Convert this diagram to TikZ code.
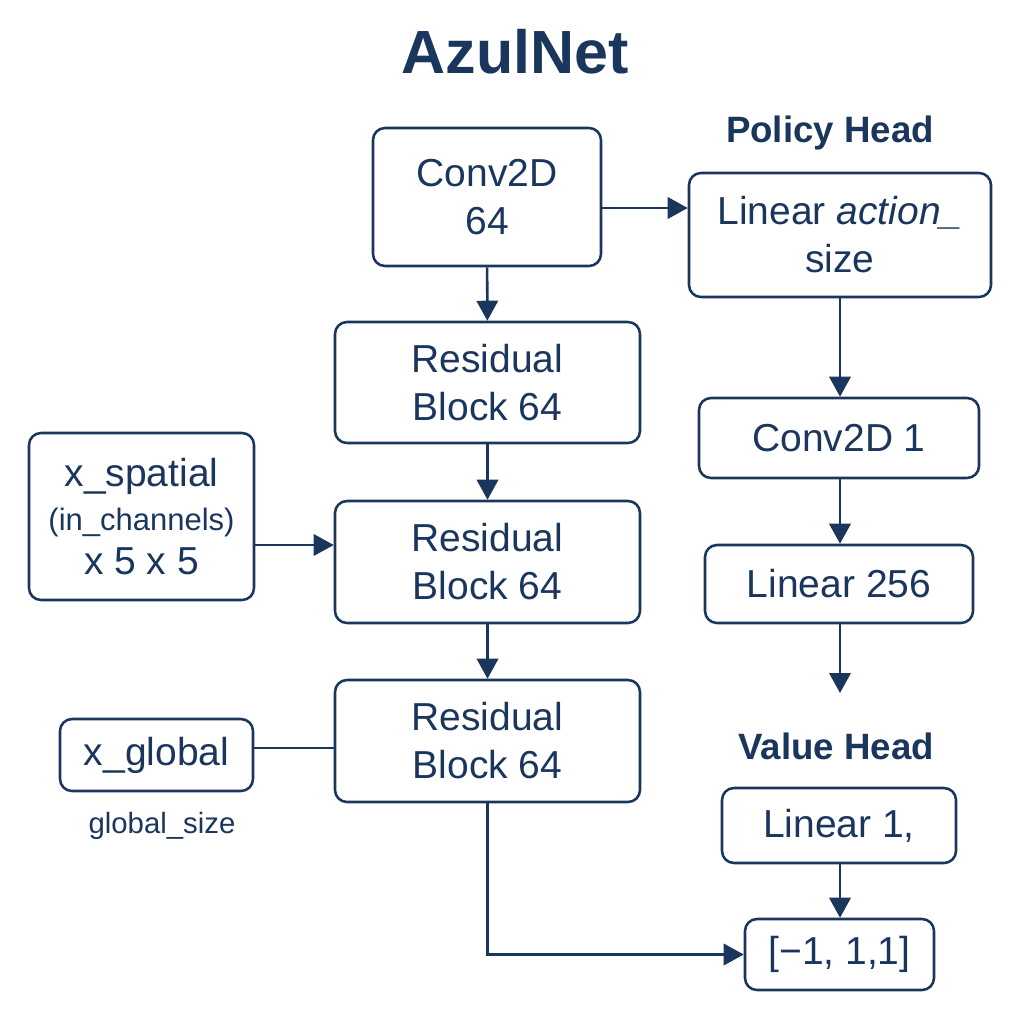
\documentclass[tikz,border=0pt]{standalone}
\usepackage{fontspec}
\setmainfont{Liberation Sans}
\usetikzlibrary{arrows.meta}
\definecolor{navy}{HTML}{1B365D}
\begin{document}
\begin{tikzpicture}[x=0.75pt,y=-0.75pt,
  box/.style={draw=navy, line width=1.9pt, rounded corners=9pt, inner sep=0pt, align=center, text=navy,
    font=\fontsize{29.25}{36}\selectfont},
  sz/.style 2 args={minimum width=#1*0.75pt, minimum height=#2*0.75pt},
  arr/.style={draw=navy, line width=1.9pt, -{Triangle[length=15pt,width=16pt]}},
  ln/.style={draw=navy, line width=1.9pt},
  ttl/.style={text=navy, font=\bfseries\fontsize{27.5}{32}\selectfont}]
\useasboundingbox (0,0) rectangle (1024,1024);
\node[text=navy, font=\bfseries\fontsize{45.75}{50}\selectfont] (title) at (515,52) {AzulNet};
\node[ttl] (ph) at (830,133) {Policy Head};
\node[ttl] (vh) at (836,746) {Value Head};

\node[box, sz={228}{138}] (conv) at (487,197) {Conv2D\\64};
\node[box, sz={305}{121}] (res1) at (487.5,382.5) {Residual\\Block 64};
\node[box, sz={305}{122}] (res2) at (487.5,562) {Residual\\Block 64};
\node[box, sz={305}{122}] (res3) at (487.5,741) {Residual\\Block 64};
\node[box, sz={225}{167}, font=\fontsize{29.25}{34}\selectfont] (xs) at (141.5,516.5) {x\_spatial\\[-1pt]{\fontsize{23.25}{34}\selectfont (in\_channels)}\\[-1pt]x 5 x 5};
\node[box, sz={193}{72}] (xg) at (156.5,755) {x\_global};
\node[text=navy, font=\fontsize{22}{26}\selectfont] (gs) at (162,826) {global\_size};

\node[box, sz={302}{124}] (lin) at (840,235) {Linear \textit{action\_}\\size};
\node[box, sz={280}{80}] (conv1) at (839,438) {Conv2D 1};
\node[box, sz={268}{78}] (l256) at (839,584) {Linear 256};
\node[box, sz={234}{75}] (l1) at (839,825.5) {Linear 1,};
\node[box, sz={189}{71}] (out) at (839.5,954.5) {[\char"2212 1, 1,1]};

\coordinate (y208) at (0,208);
\coordinate (y545) at (0,545);
\coordinate (y748) at (0,748);
\coordinate (vend) at (840,693);

\draw[arr] (conv) -- (res1);
\draw[arr] (res1) -- (res2);
\draw[arr] (res2) -- (res3);
\draw[arr] (conv.east |- y208) -- (lin.west |- y208);
\draw[arr] (lin.south) -- (conv1.north -| lin.south);
\draw[arr] (conv1.south -| lin.south) -- (l256.north -| lin.south);
\draw[arr] (l256.south -| vend) -- (vend);
\draw[arr] (xs.east |- y545) -- (res2.west |- y545);
\draw[ln] (xg.east |- y748) -- (res3.west |- y748);
\draw[arr] (res3.south) |- (out.west);
\draw[arr] (l1.south -| vend) -- (out.north -| vend);
\end{tikzpicture}
\end{document}
